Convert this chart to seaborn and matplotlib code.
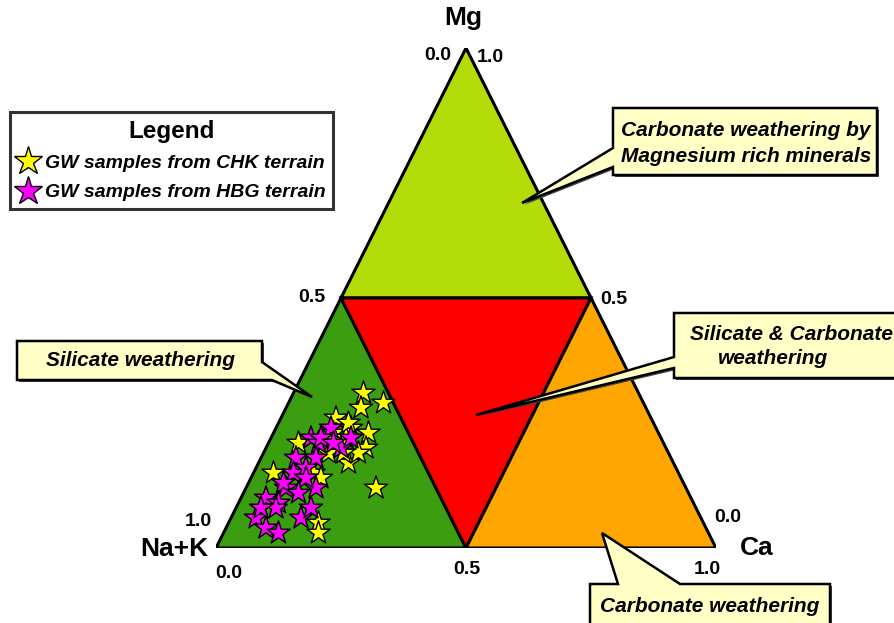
import matplotlib
matplotlib.use("Agg")
import matplotlib.pyplot as plt
from matplotlib.patches import Polygon
from matplotlib.lines import Line2D
import pandas as pd
import seaborn as sns

sns.set_theme(style="white")
plt.rcParams["font.family"] = ["Liberation Sans", "DejaVu Sans"]

# Cation fractions (Na+K, Ca, Mg) of groundwater samples
chk_nak = [0.55, 0.52, 0.57, 0.63, 0.61, 0.58, 0.60, 0.65, 0.81, 0.62, 0.77,
           0.78, 0.73, 0.73, 0.72, 0.62, 0.65, 0.68, 0.65, 0.63, 0.61]
chk_ca = [0.14, 0.19, 0.15, 0.11, 0.15, 0.19, 0.20, 0.18, 0.04, 0.26, 0.18,
          0.19, 0.06, 0.12, 0.14, 0.19, 0.16, 0.13, 0.12, 0.15, 0.14]
chk_mg = [0.31, 0.29, 0.28, 0.26, 0.24, 0.23, 0.20, 0.17, 0.15, 0.12, 0.05,
          0.03, 0.21, 0.15, 0.14, 0.19, 0.19, 0.19, 0.23, 0.22, 0.25]

hbg_nak = [0.65, 0.70, 0.69, 0.65, 0.62, 0.75, 0.71, 0.77, 0.74, 0.80, 0.74,
           0.85, 0.83, 0.89, 0.84, 0.80, 0.77, 0.88, 0.86, 0.68, 0.80, 0.75,
           0.78, 0.87, 0.66]
hbg_ca = [0.11, 0.08, 0.10, 0.15, 0.16, 0.07, 0.11, 0.08, 0.10, 0.08, 0.14,
          0.05, 0.08, 0.05, 0.08, 0.14, 0.15, 0.08, 0.11, 0.10, 0.07, 0.11,
          0.11, 0.05, 0.13]
hbg_mg = [0.24, 0.22, 0.21, 0.20, 0.22, 0.18, 0.18, 0.15, 0.16, 0.12, 0.12,
          0.10, 0.09, 0.06, 0.08, 0.06, 0.08, 0.04, 0.03, 0.22, 0.13, 0.14,
          0.11, 0.08, 0.21]

terrains = ["GW samples from CHK terrain", "GW samples from HBG terrain"]
star_colors = ["#FFFF00", "#FF00FF"]

df = pd.concat([
    pd.DataFrame({"terrain": terrains[0], "nak": chk_nak, "ca": chk_ca, "mg": chk_mg}),
    pd.DataFrame({"terrain": terrains[1], "nak": hbg_nak, "ca": hbg_ca, "mg": hbg_mg}),
], ignore_index=True)
# ternary -> cartesian (Na+K at origin, Ca at (1,0), Mg at apex)
df["x"] = df["ca"] + df["mg"] / 2
df["y"] = df["mg"]

W, H = 894, 623
fig = plt.figure(figsize=(W / 100, H / 100), dpi=100)
fig.patch.set_facecolor("white")

# ternary axes sized to the triangle
LEFT, BASE, SIDE, APEX = 216, 548, 500, 48
ax = fig.add_axes([LEFT / W, (H - BASE) / H, SIDE / W, (BASE - APEX) / H])
ax.set_xlim(0, 1)
ax.set_ylim(0, 1)
ax.axis("off")

regions = [
    ([(0.25, 0.5), (0.75, 0.5), (0.5, 1.0)], "#B4DC08"),   # Mg-rich carbonate
    ([(0.0, 0.0), (0.5, 0.0), (0.25, 0.5)], "#3A9E10"),    # silicate
    ([(0.25, 0.5), (0.75, 0.5), (0.5, 0.0)], "#FF0000"),   # silicate & carbonate
    ([(0.5, 0.0), (1.0, 0.0), (0.75, 0.5)], "#FFA500"),    # carbonate
]
for verts, col in regions:
    ax.add_patch(Polygon(verts, closed=True, facecolor=col, edgecolor="black",
                         linewidth=2.2, joinstyle="miter", zorder=1))

sns.scatterplot(data=df, x="x", y="y", hue="terrain", hue_order=terrains,
                palette=dict(zip(terrains, star_colors)), marker="*", s=310,
                edgecolor="black", linewidth=1.0, legend=False, ax=ax,
                clip_on=False, zorder=5)

# overlay in pixel units for labels and callouts
deco = fig.add_axes([0, 0, 1, 1], zorder=3)
deco.set_xlim(0, W)
deco.set_ylim(H, 0)
deco.axis("off")
deco.patch.set_alpha(0)

lab = dict(fontweight="bold", color="black", ha="center", va="center")
deco.text(463, 18, "Mg", fontsize=19, **lab)
deco.text(174, 549, "Na+K", fontsize=19, **lab)
deco.text(757, 548, "Ca", fontsize=19, **lab)
tick = dict(fontsize=14, **lab)
deco.text(438, 56, "0.0", **tick)
deco.text(490, 58, "1.0", **tick)
deco.text(312, 298, "0.5", **tick)
deco.text(614, 300, "0.5", **tick)
deco.text(198, 521, "1.0", **tick)
deco.text(229, 574, "0.0", **tick)
deco.text(467, 569, "0.5", **tick)
deco.text(728, 518, "0.0", **tick)
deco.text(707, 569, "1.0", **tick)

BOX_FILL = "#FFFFC6"


def callout(verts, texts):
    shadow = [(x + 2, y + 2) for x, y in verts]
    deco.add_patch(Polygon(shadow, closed=True, facecolor="#444444",
                           edgecolor="none", zorder=4))
    deco.add_patch(Polygon(verts, closed=True, facecolor=BOX_FILL,
                           edgecolor="black", linewidth=1.8,
                           joinstyle="miter", zorder=5))
    for x, y, s in texts:
        deco.text(x, y, s, fontsize=15, fontweight="bold", style="italic",
                  ha="center", va="center", color="black", zorder=6)


callout([(613, 108), (877, 108), (877, 175), (613, 175), (613, 167),
         (522, 203), (613, 148)],
        [(746, 131, "Carbonate weathering by"),
         (746, 156, "Magnesium rich minerals")])
callout([(17, 341), (262, 341), (262, 362), (312, 397), (272, 380), (17, 380)],
        [(140, 361, "Silicate weathering")])
callout([(674, 313), (900, 313), (900, 378), (674, 378), (674, 368),
         (476, 415), (674, 357)],
        [(791, 335, "Silicate & Carbonate"), (773, 358, "weathering")])
callout([(590, 584), (618, 584), (602, 533), (680, 584), (830, 584),
         (830, 640), (590, 640)],
        [(710, 606, "Carbonate weathering")])

# legend
handles = [Line2D([], [], linestyle="none", marker="*", markersize=21,
                  markerfacecolor=c, markeredgecolor="black",
                  markeredgewidth=1.0) for c in star_colors]
leg = fig.legend(handles, terrains, loc="upper left",
                 bbox_to_anchor=(10 / W, 1 - 112 / H), borderaxespad=0,
                 title="Legend", frameon=True, fancybox=False,
                 handlelength=1.0, handletextpad=0.4, borderpad=0.4,
                 labelspacing=0.6, labelcolor="black",
                 prop=dict(family="Liberation Sans", weight="bold",
                           style="italic", size=14))
leg.get_title().set_fontsize(17.5)
leg.get_title().set_fontweight("bold")
leg.get_title().set_color("black")
leg.get_frame().set_edgecolor("black")
leg.get_frame().set_linewidth(2.2)
leg.set_zorder(10)

fig.savefig("out.png", dpi=100, facecolor="white")
